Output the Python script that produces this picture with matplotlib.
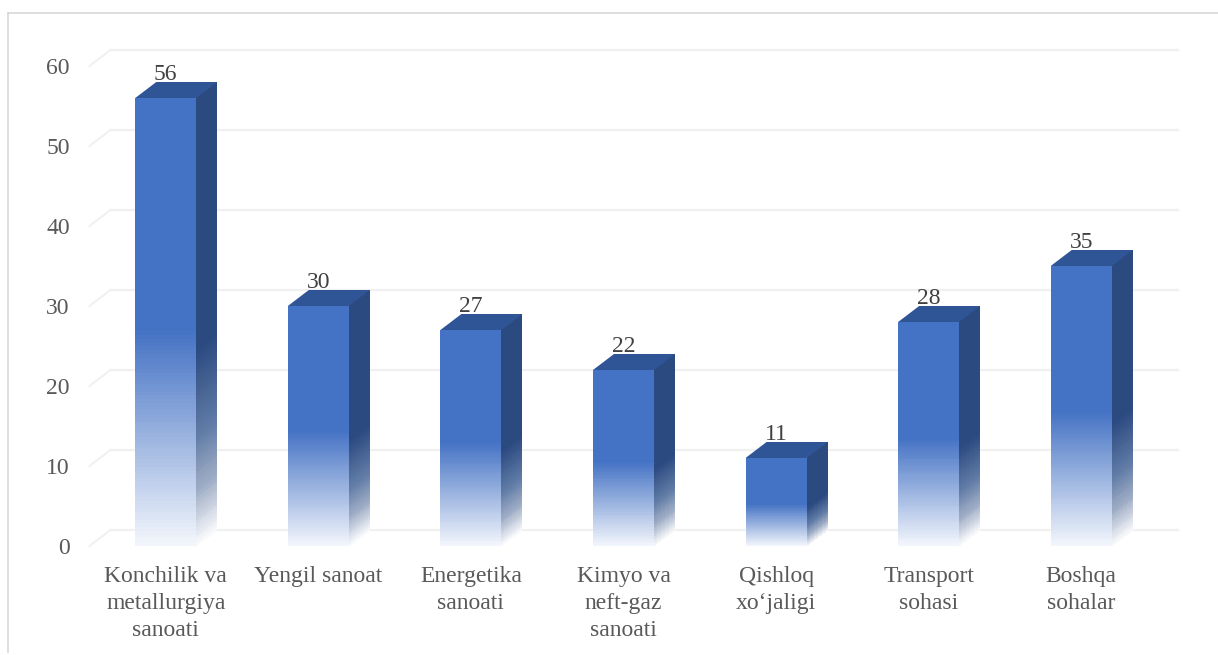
import numpy as np
import matplotlib
matplotlib.use('Agg')
import matplotlib.pyplot as plt
from matplotlib.colors import LinearSegmentedColormap
from matplotlib.lines import Line2D

categories = ['Konchilik va\nmetallurgiya\nsanoati', 'Yengil sanoat', 'Energetika\nsanoati',
              'Kimyo va\nneft-gaz\nsanoati', 'Qishloq\nxo‘jaligi', 'Transport\nsohasi', 'Boshqa\nsohalar']
values = [56, 30, 27, 22, 11, 28, 35]
y_ticks = [0, 10, 20, 30, 40, 50, 60]

W, H = 1218, 655
plt.rcParams['font.family'] = ['Liberation Serif', 'DejaVu Serif']

fig = plt.figure(figsize=(W / 100, H / 100), dpi=100)
# оси совпадают с передней плоскостью диаграммы
ax = fig.add_axes([89.5 / W, 1 - 546 / H, 1068 / W, 480 / H])
ax.set_xlim(-0.5, 6.5)
ax.set_ylim(0, 60)
ax.axis('off')

bar_w = 0.4
dx = 21 / 152.6   # глубина по x
dy = 2.0          # глубина по y

# сетка на задней стенке и косые штрихи слева
for t in y_ticks:
    ax.plot([-0.5 + dx, 6.5 + dx], [t + dy, t + dy], color='#F0F0F0', lw=1.6, clip_on=False, zorder=1)
    ax.plot([-0.5, -0.5 + dx], [t, t + dy], color='#F0F0F0', lw=1.3, clip_on=False, zorder=1)
    ax.text(-0.5 - 0.13, t - 0.05, str(t), ha='right', va='center_baseline', fontsize=17, color='#595959')


def fade(color):
    return LinearSegmentedColormap.from_list('fade', [(0, '#F3F6FC'), (0.48, color), (1, color)])


front_cmap = fade('#4472C4')
side_cmap = LinearSegmentedColormap.from_list(
    'side', [(0, '#FBFCFD'), (0.12, '#A0AEC6'), (0.25, '#5F7AA5'), (0.44, '#2B4A80'), (1, '#2B4A80')])
steps = np.linspace(0, 1, 120)
mid = (steps[:-1] + steps[1:]).reshape(1, -1) / 2

for i, (v, cat) in enumerate(zip(values, categories)):
    l, r = i - bar_w / 2, i + bar_w / 2
    ys = steps * v
    # передняя грань
    X, Y = np.meshgrid([l, r], ys)
    ax.pcolormesh(X, Y, mid.T, cmap=front_cmap, vmin=0, vmax=1, zorder=3, linewidth=0, rasterized=True)
    # боковая грань
    Xs = np.column_stack([np.full_like(ys, r), np.full_like(ys, r + dx)])
    Ys = np.column_stack([ys, ys + dy])
    ax.pcolormesh(Xs, Ys, mid.T, cmap=side_cmap, vmin=0, vmax=1, zorder=3, linewidth=0, clip_on=False)
    # верхняя грань
    ax.fill([l, r, r + dx, l + dx], [v, v, v + dy, v + dy], color='#2F5597', lw=0, zorder=3, clip_on=False)
    ax.text(i, v + 1.65, str(v), ha='center', va='bottom', fontsize=17, color='#404040', zorder=4,
            linespacing=1, clip_on=False)
    ax.text(i, -2.55, cat, ha='center', va='top', fontsize=17, color='#595959', linespacing=1.36)

# рамка, обрезанная снизу и справа
frame = '#D4D4D4'
fig.add_artist(Line2D([8 / W, 8 / W], [1 - 13 / H, 1 - 652 / H], color=frame, lw=1.1))
fig.add_artist(Line2D([8 / W, 1], [1 - 13 / H, 1 - 13 / H], color=frame, lw=1.1))

fig.savefig('out.png', dpi=100, facecolor='white')
